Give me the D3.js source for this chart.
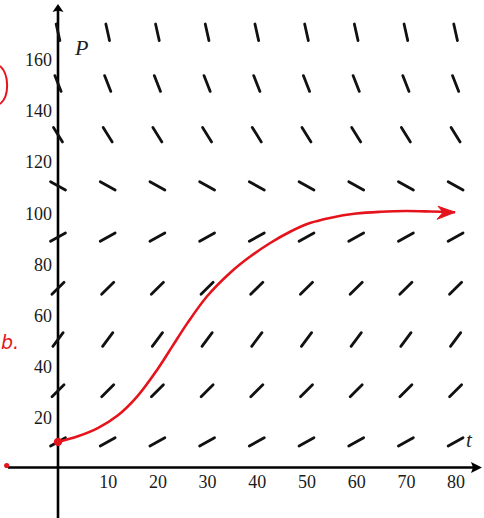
<!DOCTYPE html>
<html>
<head>
<meta charset="utf-8">
<script src="https://cdn.jsdelivr.net/npm/d3@7"></script>
<style>
  html, body { margin: 0; padding: 0; background: #ffffff; }
  svg { display: block; }
</style>
</head>
<body>
<svg id="chart" width="484" height="518"></svg>
<script>
// ---- data ----
const columnT = [0, 10, 20, 30, 40, 50, 60, 70, 80];
const rowP = [10, 30, 50, 70, 90, 110, 130, 150, 170];
const rowSlope = [1.07, 1.94, 2.58, 1.9, 1.07, -1.07, -3.1, -4.9, -8.7];
const xTicks = [10, 20, 30, 40, 50, 60, 70, 80];
const yTicks = [20, 40, 60, 80, 100, 120, 140, 160];
const curveT = [0, 4, 8, 12, 16, 20, 23, 26, 30, 34.6, 38.6, 42.7, 46.7, 50.7, 54.7, 60, 65, 70, 75, 79.9];
const curveP = [10, 12.2, 15.4, 20.3, 27.9, 38.3, 47.3, 56.3, 66.9, 76, 82.3, 87.7, 92.1, 95.5, 97.5, 99.2, 99.9, 100.2, 100, 99.7];

// ---- layout ----
const svg = d3.select("#chart");
const x = d3.scaleLinear().domain([0, 80]).range([58, 455.6]);
const y = d3.scaleLinear().domain([0, 170]).range([467.5, 32.3]);
const red = "#e5141c";
const serif = "'Liberation Serif', 'Times New Roman', serif";

// axes lines
const x0 = x(0), y0 = y(0);
svg.append("line").attr("x1", 8).attr("x2", 474).attr("y1", y0).attr("y2", y0)
  .attr("stroke", "#000").attr("stroke-width", 2.6);
svg.append("path").attr("d", `M482,${y0} L471,${y0 - 5.5} L473,${y0} L471,${y0 + 5.5} Z`).attr("fill", "#000");
svg.append("line").attr("x1", x0).attr("x2", x0).attr("y1", 518).attr("y2", 10)
  .attr("stroke", "#000").attr("stroke-width", 2.6);
svg.append("path").attr("d", `M${x0},4 L${x0 + 5.5},12 L${x0},10.5 L${x0 - 5.5},12 Z`).attr("fill", "#000");

// slope field
const half = 8.5;
const pxT = x(1) - x(0);
const pxP = y(0) - y(1);
const segs = [];
rowP.forEach((p, i) => {
  columnT.forEach(t => {
    const dx = pxT, dy = rowSlope[i] * pxP;
    const L = Math.hypot(dx, dy);
    const ux = dx / L * half, uy = dy / L * half;
    const cx = x(t), cy = y(p);
    segs.push({x1: cx - ux, y1: cy + uy, x2: cx + ux, y2: cy - uy});
  });
});
svg.append("g").selectAll("line").data(segs).join("line")
  .attr("x1", d => d.x1).attr("y1", d => d.y1)
  .attr("x2", d => d.x2).attr("y2", d => d.y2)
  .attr("stroke", "#111").attr("stroke-width", 2.8).attr("stroke-linecap", "round");

// tick labels
const gx = svg.append("g").attr("transform", `translate(0,${y0})`)
  .call(d3.axisBottom(x).tickValues(xTicks).tickSize(0).tickPadding(8).tickFormat(d3.format("d")));
gx.select(".domain").remove();
gx.selectAll("text").attr("font-family", serif).attr("font-size", 18).attr("fill", "#1a1a1a");

const gy = svg.append("g").attr("transform", `translate(${x0},0)`)
  .call(d3.axisLeft(y).tickValues(yTicks).tickSize(0).tickPadding(6).tickFormat(d3.format("d")));
gy.select(".domain").remove();
gy.selectAll("text").attr("font-family", serif).attr("font-size", 18).attr("fill", "#1a1a1a").attr("dy", "0.42em");

// axis titles
svg.append("text").attr("x", 75).attr("y", 55).attr("font-family", serif)
  .attr("font-style", "italic").attr("font-size", 22).attr("fill", "#222").text("P");
svg.append("text").attr("x", 466).attr("y", 447).attr("font-family", serif)
  .attr("font-style", "italic").attr("font-size", 21).attr("fill", "#222").text("t");

// red solution curve
const pts = curveT.map((t, i) => [t, curveP[i]]);
svg.append("path").datum(pts)
  .attr("d", d3.line().x(d => x(d[0])).y(d => y(d[1])).curve(d3.curveCatmullRom.alpha(0.5)))
  .attr("fill", "none").attr("stroke", red).attr("stroke-width", 2.6);
const tip = [x(curveT[curveT.length - 1]), y(curveP[curveP.length - 1])];
svg.append("path")
  .attr("d", `M${tip[0]},${tip[1]} L${tip[0] - 17},${tip[1] - 6} L${tip[0] - 12},${tip[1]} L${tip[0] - 18},${tip[1] + 7} Z`)
  .attr("fill", red).attr("stroke", red).attr("stroke-width", 1).attr("stroke-linejoin", "round");
svg.append("circle").attr("cx", x(curveT[0])).attr("cy", y(curveP[0])).attr("r", 4.2).attr("fill", red);

// red handwritten marks
svg.append("path").attr("d", "M0,66 C9,74 10,96 0,104").attr("fill", "none")
  .attr("stroke", red).attr("stroke-width", 2);
svg.append("text").attr("x", 1).attr("y", 349).attr("font-family", "'DejaVu Sans', sans-serif")
  .attr("font-style", "italic").attr("font-size", 19).attr("fill", red).text("b.");
svg.append("circle").attr("cx", 6.7).attr("cy", 465.5).attr("r", 2.6).attr("fill", red);
</script>
</body>
</html>
